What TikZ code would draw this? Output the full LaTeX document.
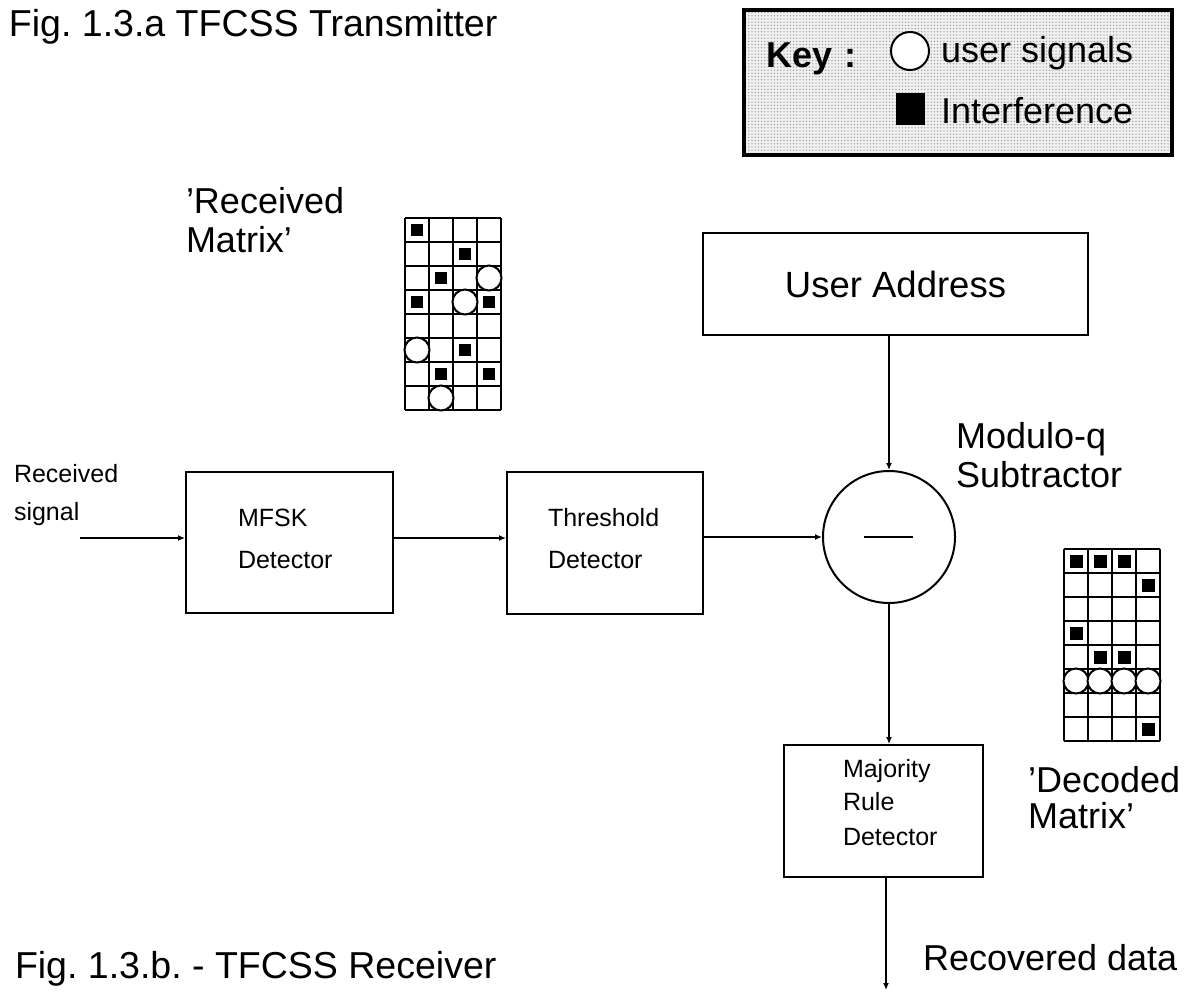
\documentclass[tikz,border=0pt]{standalone}
\usepackage{fontspec}
\setmainfont{Liberation Sans}
\usetikzlibrary{arrows.meta,patterns.meta}
\frenchspacing
\begin{document}
\begin{tikzpicture}[x=0.5pt,y=-0.5pt, line width=1pt,
  big/.style={font=\fontsize{18}{22}\selectfont, inner sep=0pt, anchor=base west},
  ttl/.style={font=\fontsize{18.75}{22}\selectfont, inner sep=0pt, anchor=base west},
  keyfont/.style={font=\fontsize{18}{22}\selectfont\bfseries, inner sep=0pt, anchor=base west},
  small/.style={font=\fontsize{12.5}{15}\selectfont, inner sep=0pt, anchor=base west},
  blk/.style={draw, line width=1pt, inner sep=0pt},
  arr/.style={-{Latex[length=3.5pt,width=3pt]}}]
\useasboundingbox (0,0) rectangle (1197,995);

% titles
\node[ttl] (t1) at (8,37) {Fig. 1.3.a TFCSS Transmitter};
\node[ttl] (t2) at (14,978) {Fig. 1.3.b. - TFCSS Receiver};

% key box
\fill[gray!12] (744,10) rectangle (1172,155);
\fill[pattern={Dots[distance=1.6pt,radius=0.35pt]}, pattern color=gray!85] (744,10) rectangle (1172,155);
\draw[line width=2pt] (744,10) rectangle (1172,155);
\node[keyfont] (keylbl) at (765,68) {Key\,\,:};
\node[draw, circle, fill=white, minimum size=19pt, inner sep=0pt] (keyc) at (910,51) {};
\node[fill=black, minimum width=14.5pt, minimum height=16pt, inner sep=0pt] (keys) at (910.5,109) {};
\node[big] (keyu) at (940,62) {user signals};
\node[big] (keyi) at (940,123) {Interference};

% labels
\node[big] (rm1) at (185,213) {'Received};
\node[big] (rm2) at (185,252) {Matrix'};
\node[big] (mq1) at (955,448) {Modulo-q};
\node[big] (mq2) at (955,487) {Subtractor};
\node[big] (dm1) at (1027,792) {'Decoded};
\node[big] (dm2) at (1027,828) {Matrix'};
\node[big] (rd) at (922,970) {Recovered data};
\node[small] (rs1) at (13,482) {Received};
\node[small] (rs2) at (13,520) {signal};

% blocks
\node[blk, minimum width=192.5pt, minimum height=51pt, font=\fontsize{18.25}{22}\selectfont] (usr) at (895.5,284) {User Address};
\node[blk, minimum width=103.5pt, minimum height=70.5pt] (mfsk) at (289.5,542.5) {};
\node[blk, minimum width=98pt, minimum height=71pt] (thr) at (605,543) {};
\node[draw, circle, minimum size=66pt, inner sep=0pt] (sub) at (889,537) {};
\node[blk, minimum width=99.5pt, minimum height=66pt] (maj) at (883.5,811) {};
\draw ([xshift=-12.5pt]sub.center) -- ([xshift=12pt]sub.center);

\node[small] (mf1) at (237,526) {MFSK};
\node[small] (mf2) at (237,568) {Detector};
\node[small] (th1) at (547,526) {Threshold};
\node[small] (th2) at (547,568) {Detector};
\node[small] (mj1) at (842,777) {Majority};
\node[small] (mj2) at (842,810) {Rule};
\node[small] (mj3) at (842,845) {Detector};

% connectors
\coordinate (in) at (80,538);
\coordinate (out) at (886,990);
\draw[arr] (in) -- (in -| mfsk.west);
\draw[arr] (mfsk.east |- in) -- (in -| thr.west);
\draw[arr] (thr.east |- sub.west) -- (sub.west);
\draw[arr] (usr.south -| sub.north) -- (sub.north);
\draw[arr] (sub.south) -- (sub.south |- maj.north);
\draw[arr] (maj.south -| out) -- (out);

% received matrix
\begin{scope}[shift={(405,218)}]
  \foreach \i in {0,...,4} \draw ({24*\i},0) -- ({24*\i},192);
  \foreach \j in {0,...,8} \draw (0,{24*\j}) -- (96,{24*\j});
  \foreach \r/\c in {0/0,1/2,2/1,3/0,3/3,5/2,6/1,6/3}
    \fill ({24*\c+6},{24*\r+6}) rectangle +(12,12);
  \foreach \r/\c in {2/3,3/2,5/0,7/1}
    \draw[fill=white] ({24*\c+12},{24*\r+12}) circle[radius=12.5];
\end{scope}

% decoded matrix
\begin{scope}[shift={(1064,549)}]
  \foreach \i in {0,...,4} \draw ({24*\i},0) -- ({24*\i},192);
  \foreach \j in {0,...,8} \draw (0,{24*\j}) -- (96,{24*\j});
  \foreach \r/\c in {0/0,0/1,0/2,1/3,3/0,4/1,4/2,7/3}
    \fill ({24*\c+5.5},{24*\r+5.5}) rectangle +(13,13);
  \foreach \c in {0,...,3}
    \draw[fill=white] ({24*\c+12},{24*5+12}) circle[radius=12.5];
\end{scope}
\end{tikzpicture}
\end{document}
